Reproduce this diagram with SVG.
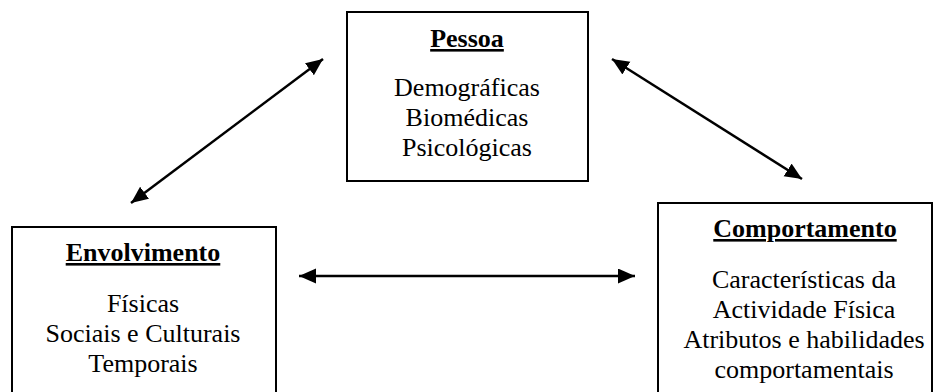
<svg xmlns="http://www.w3.org/2000/svg" width="934" height="392" viewBox="0 0 934 392">
<style>
.box{fill:#fff;stroke:#000;stroke-width:2}
.t{font-family:'Liberation Serif','Times New Roman',Times,'DejaVu Serif',serif;font-size:26px;fill:#000;text-anchor:middle}
.h{font-weight:bold;text-decoration:underline}
.c{stroke:#000;stroke-width:2.5;fill:none}
</style>
<defs>
<marker id="ah" markerUnits="userSpaceOnUse" markerWidth="18" markerHeight="16" refX="17" refY="7.5" orient="auto-start-reverse">
<path d="M0,0 L17,7.5 L0,15 z" fill="#000"/>
</marker>
</defs>
<rect width="934" height="392" fill="#fff"/>
<g id="pessoa">
<rect class="box" x="347" y="12" width="241" height="169"/>
<text class="t h" x="467" y="47">Pessoa</text>
<text class="t" x="467" y="96">Demográficas</text>
<text class="t" x="467" y="126">Biomédicas</text>
<text class="t" x="467" y="156">Psicológicas</text>
</g>
<g id="envolvimento">
<rect class="box" x="12" y="227" width="264" height="180"/>
<text class="t h" x="143" y="261">Envolvimento</text>
<text class="t" x="143" y="312">Físicas</text>
<text class="t" x="143" y="342">Sociais e Culturais</text>
<text class="t" x="143" y="372">Temporais</text>
</g>
<g id="comportamento">
<rect class="box" x="658" y="203" width="274" height="200"/>
<text class="t h" x="805" y="237">Comportamento</text>
<text class="t" x="804" y="288">Características da</text>
<text class="t" x="804" y="318">Actividade Física</text>
<text class="t" x="804" y="348">Atributos e habilidades</text>
<text class="t" x="804" y="378">comportamentais</text>
</g>
<g id="connectors">
<line class="c" x1="131" y1="203" x2="323" y2="59" marker-start="url(#ah)" marker-end="url(#ah)"/>
<line class="c" x1="612" y1="59" x2="802" y2="179" marker-start="url(#ah)" marker-end="url(#ah)"/>
<line class="c" x1="299" y1="276" x2="635" y2="276" marker-start="url(#ah)" marker-end="url(#ah)"/>
</g>
</svg>
